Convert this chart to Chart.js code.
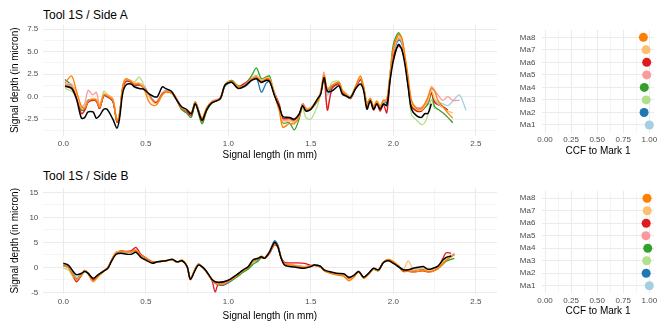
<!DOCTYPE html>
<html>
<head>
<meta charset="utf-8">
<script src="https://cdn.jsdelivr.net/npm/chart.js@4.4.1/dist/chart.umd.min.js"></script>
<style>
  body { margin: 0; width: 664px; height: 332px; position: relative; background: #fff; overflow: hidden; }
  canvas { position: absolute; }
  .title { position: absolute; font: 12px "Liberation Sans", Arial, sans-serif; line-height: 14px; color: #000; white-space: nowrap; }
</style>
</head>
<body>
<div class="title" style="left:43px; top:8px">Tool 1S / Side A</div>
<div class="title" style="left:43px; top:169px">Tool 1S / Side B</div>
<canvas id="profileA" width="500" height="166" style="left:0; top:0"></canvas>
<canvas id="ccfA" width="174" height="166" style="left:490px; top:0"></canvas>
<canvas id="profileB" width="500" height="166" style="left:0; top:166px"></canvas>
<canvas id="ccfB" width="174" height="166" style="left:490px; top:166px"></canvas>
<script>
// Marks and colours (ColorBrewer "Paired")
const markNames = ['Ma1', 'Ma2', 'Ma3', 'Ma4', 'Ma5', 'Ma6', 'Ma7', 'Ma8'];
const markColors = ['#A6CEE3', '#1F78B4', '#B2DF8A', '#33A02C', '#FB9A99', '#E31A1C', '#FDBF6F', '#FF7F00'];

// CCF to Mark 1
const ccfSideA = [1.0, 0.95, 0.97, 0.952, 0.975, 0.975, 0.968, 0.943];
const ccfSideB = [1.0, 0.97, 0.975, 0.985, 0.967, 0.97, 0.98, 0.978];

// Tick values
const lengthTicks = [0, 0.5, 1, 1.5, 2, 2.5];
const lengthMinor = [0.25, 0.75, 1.25, 1.75, 2.25];
const depthTicksA = [-2.5, 0, 2.5, 5, 7.5];
const depthMinorA = [-3.75, -1.25, 1.25, 3.75, 6.25];
const depthTicksB = [-5, 0, 5, 10, 15];
const depthMinorB = [-2.5, 2.5, 7.5, 12.5];
const ccfTicks = [0, 0.25, 0.5, 0.75, 1];
const ccfMinor = [0.125, 0.375, 0.625, 0.875];

// Side A: signal length (mm) and depth (micron)
const lengthA = [0.01, 0.05, 0.08, 0.11, 0.13, 0.15, 0.18, 0.20, 0.22, 0.245,
  0.265, 0.30, 0.325, 0.34, 0.36, 0.38, 0.41, 0.43, 0.46, 0.49,
  0.52, 0.55, 0.57, 0.60, 0.62, 0.655, 0.685, 0.715, 0.745, 0.775,
  0.80, 0.84, 0.87, 0.90, 0.95, 0.98, 1.02, 1.06, 1.10, 1.14,
  1.17, 1.20, 1.23, 1.25, 1.28, 1.31, 1.33, 1.37, 1.40, 1.43,
  1.45, 1.47, 1.50, 1.54, 1.56, 1.58, 1.60, 1.63, 1.67, 1.69,
  1.71, 1.74, 1.77, 1.80, 1.82, 1.84, 1.86, 1.88, 1.90, 1.92,
  1.94, 1.96, 1.98, 2.00, 2.03, 2.05, 2.07, 2.09, 2.11, 2.14,
  2.17, 2.19, 2.21, 2.23, 2.25, 2.27, 2.30, 2.33, 2.36, 2.40, 2.44];

const sideA_ref = [1.2, 0.9, -0.3, -2.4, -2.3, -1.7, -1.7, -2.4, -2.1, -1.4,
  -1.4, -2.5, -3.5, -2.5, 0.4, 1.3, 1.4, 1.1, 0.9, 0.8,
  0.3, 0.0, 0.0, 1.1, 0.9, 0.6, -0.3, -1.1, -1.4, -1.9,
  -0.8, -2.6, -1.4, -0.7, -0.25, 1.3, 1.6, 0.9, 1.2, 1.8,
  2.0, 1.6, 1.8, 1.7, 0.1, -1.2, -2.2, -2.3, -2.5, -1.9,
  -1.0, -1.6, -1.4, -0.25, 0.3, 2.1, 0.6, 0.65, 1.2, 0.3,
  0.1, -0.1, 0.85, 1.4, 0.65, -1.4, -0.45, -1.4, -0.8, -1.4,
  -0.8, -1.0, 1.8, 4.0, 5.8, 5.3, 3.6, 1.0, -1.4, -2.1,
  -2.3, -1.9, -1.85, -0.8, null, null, null, null, null, null, null];

const sideA_Ma1 = [1.2, 1.1, 0.3, -1.3, -1.2, -0.6, -0.4, -0.5, -1.1, 0.1,
  0.0, -0.5, -2.8, -2.0, 0.9, 1.7, 1.6, 1.3, 1.3, 1.0,
  0.2, -0.5, -0.5, 0.4, 0.7, 0.5, -0.2, -1.1, -1.5, -1.8,
  -0.6, -2.4, -1.2, -0.6, -0.2, 1.2, 1.6, 1.0, 1.2, 1.9,
  2.2, 1.5, 1.9, 1.8, 0.4, -1.2, -2.5, -2.5, -2.7, -2.0,
  -0.8, -1.3, -1.2, -0.3, 0.5, 2.3, 0.2, 1.0, 1.4, 0.6,
  0.3, -0.1, 0.9, 1.9, 0.9, -0.8, -0.3, -1.1, -0.5, -1.1,
  -0.4, -0.5, 2.1, 4.9, 6.3, 6.1, 4.2, 1.6, -1.2, -1.4,
  -1.4, -1.0, -0.5, 0.5, -0.3, -0.6, -0.8, -1.0, -0.5, 0.2, -1.5];

const sideA_Ma2 = [1.9, 1.3, 0.3, -1.3, -1.2, -0.4, -0.3, -0.5, -1.1, 0.1,
  0.0, -0.5, -2.8, -2.1, 0.9, 1.7, 1.7, 1.3, 1.3, 1.0,
  0.2, -0.5, -0.6, 0.3, 0.6, 0.4, -0.3, -1.3, -1.6, -1.9,
  -0.6, -2.5, -1.3, -0.6, -0.3, 1.2, 1.6, 1.0, 1.1, 1.8,
  2.1, 0.5, 1.5, 1.7, 0.2, -1.3, -2.6, -2.5, -2.7, -2.0,
  -0.8, -1.3, -1.3, -0.4, 0.4, 2.3, 0.6, 1.0, 1.4, 0.5,
  0.2, -0.2, 0.9, 1.9, 0.9, -0.9, -0.4, -1.2, -0.6, -1.2,
  -0.5, -0.7, 2.2, 4.8, 6.3, 6.0, 4.1, 1.4, -1.0, -1.5,
  -1.5, -1.2, -0.8, 0.4, -0.5, -0.8, -1.1, -1.5, null, null, null];

const sideA_Ma3 = [0.9, 0.6, 0.0, -1.5, -1.5, -0.6, -0.3, -0.4, -1.1, 0.6,
  0.3, -0.3, -2.7, -2.0, 1.0, 1.8, 1.8, 1.6, 2.2, 1.2,
  0.2, -0.5, -0.6, 0.3, 0.6, 0.6, -0.2, -1.3, -1.7, -2.1,
  -0.8, -2.7, -1.5, -0.7, -0.2, 1.4, 1.8, 1.2, 1.4, 2.1,
  2.4, 1.8, 2.1, 1.9, 0.3, -1.3, -2.6, -2.6, -2.9, -2.2,
  -1.3, -2.3, -2.5, -1.0, 0.3, 2.3, 0.7, 1.6, 1.7, 0.8,
  0.3, 0.0, 1.1, 2.0, 1.0, -0.8, -0.2, -1.1, -0.5, -1.1,
  -0.4, -0.5, 2.3, 5.0, 6.5, 6.2, 4.2, 1.2, -2.0, -2.6,
  -3.1, -2.9, -2.0, -0.3, -1.4, null, null, null, null, null, null];

const sideA_Ma4 = [1.4, 1.3, 0.1, -1.5, -1.4, -0.6, -0.3, -0.4, -1.3, 0.2,
  0.1, -0.4, -2.8, -2.1, 1.0, 1.9, 1.7, 1.4, 1.3, 1.1,
  0.1, -0.6, -0.5, 0.3, 0.6, 0.5, -0.3, -1.4, -1.8, -2.3,
  -0.8, -3.0, -1.5, -0.7, -0.2, 1.3, 1.8, 1.2, 1.4, 2.3,
  3.2, 2.0, 2.2, 2.3, 0.2, -1.5, -2.9, -2.9, -3.7, -2.4,
  -1.0, -1.5, -1.4, -0.5, 0.5, 2.3, 0.9, 1.2, 1.5, 0.6,
  0.4, 0.0, 1.1, 2.0, 1.0, -0.7, -0.2, -1.2, -0.6, -1.2,
  -0.5, -0.5, 2.6, 5.8, 7.1, 6.5, 4.3, 1.4, -0.9, -1.5,
  -1.6, -1.2, -0.8, 0.5, -1.1, -1.4, -1.8, -2.3, -2.9, null, null];

const sideA_Ma5 = [1.2, 1.2, 0.4, -1.1, -0.8, 0.7, 0.2, 0.5, -0.9, 0.2,
  0.2, -0.2, -2.6, -2.0, 1.0, 1.8, 1.7, 1.4, 1.5, 1.1,
  0.2, -0.5, -0.5, 0.4, 0.6, 0.5, -0.1, -1.1, -1.5, -1.9,
  -0.7, -2.4, -1.2, -0.5, -0.1, 1.3, 1.7, 1.1, 1.4, 2.0,
  2.3, 1.7, 2.0, 1.9, 0.4, -1.2, -2.6, -2.5, -2.7, -2.0,
  -0.8, -1.3, -1.2, -0.3, 0.6, 2.7, -1.2, 1.0, 1.4, 0.6,
  0.3, -0.1, 1.0, 2.0, 1.1, -0.8, -0.2, -1.1, -0.5, -1.1,
  -0.5, -0.5, 2.2, 4.9, 6.5, 6.2, 4.3, 1.6, -0.8, -1.2,
  -1.2, -0.8, -0.2, 1.1, 0.7, 0.2, -0.4, 0.0, -0.4, -0.4, null];

const sideA_Ma6 = [1.1, 1.0, 0.0, -1.9, -1.5, -0.6, -0.4, -0.5, -1.3, 0.1,
  0.0, -0.5, -2.8, -2.1, 0.9, 1.7, 1.6, 1.3, 1.3, 1.0,
  0.1, -0.6, -0.6, 0.3, 0.5, 0.4, -0.3, -1.3, -1.6, -2.1,
  -0.7, -2.7, -1.4, -0.6, -0.2, 1.3, 1.7, 1.1, 1.5, 2.0,
  2.2, 1.7, 1.9, 1.8, 0.4, -0.9, -2.4, -2.4, -2.6, -2.0,
  -0.9, -1.4, -1.3, -0.4, 0.4, 2.3, -1.5, 1.0, 1.4, 0.5,
  0.2, -0.2, 0.9, 1.9, 0.9, -1.2, -0.5, -1.5, -0.8, -1.6,
  -0.9, -1.8, 1.8, 4.5, 5.6, 5.3, 3.9, 1.2, -1.1, -1.6,
  -1.6, -1.2, -0.5, 0.4, -0.6, -0.9, -1.1, -1.5, null, null, null];

const sideA_Ma7 = [1.4, 1.4, 0.3, -1.3, -1.2, -0.5, -0.2, -0.3, -1.1, 0.3,
  0.2, -0.3, -2.6, -1.9, 1.1, 1.9, 1.8, 1.5, 1.5, 1.0,
  0.0, -0.7, -0.7, 0.2, 0.5, 0.5, -0.2, -1.2, -1.5, -1.9,
  -0.7, -2.5, -1.3, -0.6, -0.2, 1.3, 1.7, 1.1, 1.3, 2.0,
  2.3, 1.8, 2.1, 2.0, 0.4, -1.3, -2.8, -2.7, -2.8, -2.1,
  -0.9, -1.4, -1.2, -0.3, 0.6, 2.5, 0.9, 1.3, 1.6, 0.7,
  0.4, 0.0, 1.1, 2.1, 1.1, -0.8, -0.2, -1.1, -0.5, -1.1,
  -0.4, -0.3, 2.5, 5.2, 6.7, 6.4, 4.5, 1.7, -0.7, -1.4,
  -1.5, -1.1, -0.5, 0.7, -0.3, -0.8, -1.2, -1.6, -1.8, null, null];

const sideA_Ma8 = [1.5, 2.3, 0.6, -1.1, -1.3, -0.5, -0.3, -0.4, -1.2, 0.2,
  0.1, -0.4, -2.7, -2.0, 1.2, 2.0, 1.7, 1.4, 1.4, 0.8,
  -0.6, -1.0, -0.8, 0.2, 0.5, 0.4, -0.3, -1.2, -1.4, -1.8,
  -0.6, -2.4, -1.2, -0.6, -0.3, 1.3, 1.7, 1.1, 1.2, 1.9,
  2.2, 1.7, 2.0, 1.9, 0.2, -1.7, -3.4, -3.0, -3.0, -2.2,
  -0.9, -1.4, -1.3, -0.5, 0.4, 2.4, 0.8, 1.3, 1.6, 0.7,
  0.3, -0.2, 1.1, 2.3, 1.1, -0.8, -0.2, -1.1, -0.5, -1.1,
  -0.4, -0.4, 2.4, 5.3, 6.9, 6.6, 4.6, 2.2, -0.4, -1.3,
  -1.3, -0.8, 0.0, 0.9, 0.6, -0.4, -1.1, -1.8, -2.4, null, null];

// Side B: signal length (mm) and depth (micron)
const lengthB = [0.00, 0.03, 0.06, 0.08, 0.11, 0.13, 0.15, 0.18, 0.21, 0.24,
  0.27, 0.29, 0.32, 0.35, 0.38, 0.41, 0.44, 0.47, 0.50, 0.54,
  0.57, 0.62, 0.66, 0.69, 0.72, 0.75, 0.77, 0.80, 0.82, 0.86,
  0.90, 0.92, 0.94, 0.97, 1.01, 1.05, 1.09, 1.12, 1.15, 1.18,
  1.20, 1.22, 1.25, 1.28, 1.30, 1.32, 1.34, 1.37, 1.41, 1.46,
  1.50, 1.52, 1.555, 1.58, 1.61, 1.655, 1.70, 1.73, 1.76, 1.79,
  1.82, 1.85, 1.88, 1.91, 1.94, 1.97, 2.00, 2.03, 2.06, 2.09,
  2.12, 2.15, 2.18, 2.21, 2.24, 2.27, 2.30, 2.32, 2.35, 2.37];

const sideB_ref = [0.8, 0.45, -0.85, -1.5, -1.2, -0.85, -1.2, -2.2, -1.5, -0.85,
  -0.2, 1.1, 2.6, 2.8, 2.65, 2.6, 3.0, 2.0, 1.45, 0.8,
  1.1, 1.3, 1.6, 1.1, 1.3, 0.15, -2.4, -0.5, 0.45, -0.5,
  -2.4, -2.9, -3.0, -2.9, -2.4, -1.5, -0.5, 0.1, 1.5, 1.8,
  2.1, 1.8, 3.1, 5.0, 4.1, 1.8, 0.45, 0.15, 0.0, -0.2,
  0.15, 0.45, 0.25, -0.5, -0.85, -1.2, -1.3, -2.0, -1.6, -0.85,
  -2.0, -1.2, -0.2, -0.5, 0.95, 1.3, 0.8, 0.15, -0.5, -0.5,
  -0.2, 0.0, 0.15, -0.4, -0.2, 0.25, 1.45, 2.0, 2.25, null];

const sideB_Ma1 = [0.5, 0.2, -1.2, -2.0, -1.4, -0.7, -1.1, -2.4, -1.7, -0.9,
  -0.1, 1.2, 2.8, 3.1, 3.0, 3.0, 3.3, 2.3, 1.7, 1.0,
  1.1, 1.3, 1.6, 1.1, 1.4, 0.2, -2.3, -0.3, 0.6, -0.5,
  -2.4, -3.0, -3.3, -3.2, -2.6, -1.7, -0.7, -0.1, 1.1, 1.6,
  2.1, 1.9, 3.1, 5.0, 4.2, 1.8, 0.6, 0.4, 0.2, 0.0,
  0.3, 0.5, 0.3, -0.6, -1.0, -1.4, -1.5, -2.2, -1.7, -0.8,
  -2.0, -1.3, -0.3, -0.6, 1.0, 1.5, 1.0, 0.3, -0.5, -0.5,
  -0.5, -0.3, -0.2, -0.6, -0.4, 0.2, 1.0, 1.8, 2.4, 2.8];

const sideB_Ma2 = [0.4, 0.1, -1.4, -2.3, -1.4, -0.7, -1.2, -2.5, -1.8, -0.9,
  -0.1, 1.2, 2.9, 3.1, 3.0, 3.0, 3.3, 2.3, 1.7, 1.0,
  1.1, 1.3, 1.5, 1.0, 1.4, 0.2, -2.2, -0.3, 0.7, -0.5,
  -2.5, -3.2, -3.5, -3.6, -2.9, -1.9, -0.8, -0.2, 1.0, 1.5,
  2.1, 1.9, 3.2, 5.3, 4.5, 2.0, 0.7, 0.5, 0.2, 0.0,
  0.2, 0.4, 0.2, -0.6, -1.0, -1.4, -1.6, -2.3, -1.8, -0.8,
  -2.1, -1.3, -0.3, -0.6, 1.0, 1.5, 1.0, 0.2, -0.6, -0.6,
  -0.7, -0.4, -0.3, -0.7, -0.6, -0.1, 0.8, 1.5, 2.1, 2.5];

const sideB_Ma3 = [-0.2, -0.5, -2.0, -2.8, -1.7, -0.7, -1.3, -2.6, -1.8, -0.9,
  -0.1, 1.1, 2.8, 3.1, 3.0, 3.1, 3.3, 2.4, 1.8, 1.0,
  1.1, 1.4, 1.5, 1.0, 1.4, 0.2, -2.2, -0.2, 0.6, -0.6,
  -2.5, -3.0, -3.3, -3.2, -2.6, -1.8, -0.8, -0.3, 0.9, 1.6,
  2.2, 1.9, 3.0, 4.8, 4.1, 1.9, 0.7, 0.5, 0.3, 0.1,
  0.3, 0.4, 0.2, -0.5, -1.0, -1.4, -1.6, -2.3, -1.8, -0.8,
  -2.0, -1.3, -0.2, -0.5, 1.1, 1.6, 1.2, 0.4, -0.5, -0.5,
  -0.5, -0.2, -0.1, -0.5, -0.4, 0.1, 0.8, 1.4, 2.0, 2.5];

const sideB_Ma4 = [0.3, 0.0, -1.5, -2.4, -1.5, -0.6, -1.2, -2.5, -1.8, -0.9,
  -0.1, 1.2, 2.9, 3.2, 3.1, 3.1, 3.4, 2.4, 1.8, 1.0,
  1.1, 1.3, 1.5, 1.0, 1.4, 0.2, -2.2, -0.3, 0.6, -0.6,
  -2.5, -3.0, -3.2, -3.0, -2.7, -2.0, -1.0, -0.4, 0.6, 1.2,
  1.9, 1.8, 2.9, 4.8, 4.2, 1.9, 0.7, 0.5, 0.3, 0.1,
  0.3, 0.4, 0.2, -0.6, -1.0, -1.4, -1.6, -2.4, -1.8, -0.9,
  -2.1, -1.3, -0.4, -0.7, 0.9, 1.5, 1.0, 0.3, -0.6, -0.6,
  -0.6, -0.3, -0.3, -0.7, -0.6, -0.2, 0.6, 1.2, 1.6, 1.8];

const sideB_Ma5 = [0.3, 0.0, -1.5, -2.4, -1.5, -0.6, -1.2, -2.6, -1.8, -0.9,
  -0.1, 1.2, 2.9, 3.2, 3.1, 3.2, 3.5, 2.4, 1.8, 1.0,
  1.1, 1.3, 1.5, 1.0, 1.4, 0.2, -2.2, -0.3, 0.6, -0.6,
  -2.5, -3.1, -3.3, -3.2, -2.6, -1.7, -0.6, 0.0, 1.2, 1.7,
  2.2, 1.9, 3.0, 4.8, 4.2, 2.0, 0.8, 0.6, 0.4, 0.2,
  0.3, 0.4, 0.2, -0.6, -1.0, -1.4, -1.6, -2.4, -1.8, -0.8,
  -2.1, -1.3, -0.3, -0.6, 1.0, 1.6, 1.1, 0.3, -0.6, -0.6,
  -0.6, -0.3, -0.2, -0.6, -0.5, 0.0, 0.9, 1.6, 2.2, 2.6];

const sideB_Ma6 = [0.4, 0.0, -1.7, -2.9, -1.6, -0.6, -1.2, -2.5, -1.7, -0.8,
  0.0, 1.3, 3.0, 3.3, 3.2, 3.3, 4.0, 2.6, 1.9, 1.1,
  1.1, 1.3, 1.5, 1.0, 1.3, 0.0, -2.5, -0.3, 0.6, -0.6,
  -2.6, -4.9, -3.2, -3.1, -2.5, -1.6, -0.6, 0.0, 1.2, 1.7,
  2.2, 1.8, 2.8, 4.5, 4.0, 1.9, 1.0, 0.9, 0.9, 0.8,
  0.4, 0.4, 0.1, -0.6, -1.0, -1.4, -1.6, -2.4, -1.8, -0.8,
  -2.1, -1.3, -0.3, -0.6, 1.0, 1.5, 1.0, 0.2, -0.8, -0.8,
  -0.9, -0.8, -0.7, -0.9, -0.7, -0.2, 1.8, 2.9, 2.8, null];

const sideB_Ma7 = [0.3, 0.0, -1.6, -2.5, -1.5, -0.6, -1.3, -2.9, -1.9, -0.9,
  -0.1, 1.3, 3.0, 3.2, 3.1, 3.1, 3.4, 2.4, 1.8, 1.0,
  1.1, 1.3, 1.5, 1.0, 1.5, 0.2, -2.2, -0.3, 0.6, -0.6,
  -2.5, -3.1, -3.4, -3.3, -2.6, -1.7, -0.6, 0.1, 1.3, 1.8,
  2.3, 2.0, 3.0, 4.7, 4.1, 1.9, 0.7, 0.5, 0.3, 0.1,
  0.3, 0.4, 0.2, -0.6, -1.0, -1.4, -1.6, -2.5, -1.8, -0.8,
  -2.1, -1.3, -0.3, -0.6, 1.0, 1.6, 1.1, 0.3, -0.5, 1.3,
  -0.4, -0.3, -0.2, -0.6, -0.5, 0.0, 0.9, 1.6, 2.2, 2.6];

const sideB_Ma8 = [0.3, 0.0, -1.6, -2.5, -1.5, -0.6, -1.3, -2.8, -1.9, -0.9,
  -0.1, 1.2, 2.9, 3.2, 3.1, 3.1, 3.4, 2.4, 1.8, 1.0,
  1.1, 1.3, 1.5, 1.0, 1.4, 0.2, -2.2, -0.3, 0.6, -0.6,
  -2.5, -3.2, -3.4, -3.4, -2.7, -1.7, -0.6, 0.0, 1.2, 1.7,
  2.2, 1.9, 3.0, 4.7, 4.2, 1.9, 0.7, 0.5, 0.3, 0.0,
  0.3, 0.4, 0.2, -0.7, -1.1, -1.5, -1.8, -2.7, -2.0, -0.9,
  -2.2, -1.4, -0.3, -0.6, 1.0, 1.6, 1.1, 0.3, -0.7, -0.8,
  -0.9, -0.8, -0.6, -0.9, -0.8, -0.3, 0.7, 1.4, 2.1, 2.6];

const sideAProfiles = [sideA_Ma1, sideA_Ma2, sideA_Ma3, sideA_Ma4, sideA_Ma5, sideA_Ma6, sideA_Ma7, sideA_Ma8];
const sideBProfiles = [sideB_Ma1, sideB_Ma2, sideB_Ma3, sideB_Ma4, sideB_Ma5, sideB_Ma6, sideB_Ma7, sideB_Ma8];

const FONT = '"Liberation Sans", Arial, sans-serif';
const TICK_COLOR = '#4D4D4D';
const GRID_COLOR = '#EBEBEB';

Chart.defaults.font.family = FONT;
Chart.defaults.animation = false;

// ggplot-like axis: explicit major + minor ticks, minor ones unlabeled and thinner
function gridAxis(min, max, major, minor, fmt, opts) {
  return {
    type: 'linear',
    min: min,
    max: max,
    afterBuildTicks: (scale) => {
      scale.ticks = major.concat(minor).sort((a, b) => a - b).map((v) => ({ value: v }));
    },
    afterFit: opts.fit,
    border: { display: false },
    grid: {
      drawTicks: false,
      color: GRID_COLOR,
      lineWidth: (ctx) => (ctx.tick && major.includes(ctx.tick.value) ? 1 : 0.5),
    },
    ticks: {
      autoSkip: false,
      maxRotation: 0,
      padding: opts.padding,
      color: TICK_COLOR,
      font: { size: 8 },
      callback: (v) => (major.includes(v) ? fmt(v) : ''),
    },
    title: opts.title
      ? { display: true, text: opts.title, color: '#000', font: { size: 10 }, padding: opts.titlePadding }
      : { display: false },
  };
}

function profileChart(canvasId, lengths, reference, profiles, yCfg) {
  const datasets = [{
    label: 'Reference',
    data: lengths.map((x, i) => ({ x: x, y: reference[i] })),
    borderColor: '#000000',
    borderWidth: 1.5,
  }];
  // Ma8 drawn on top of Ma1
  for (let m = markNames.length - 1; m >= 0; m--) {
    datasets.push({
      label: markNames[m],
      data: lengths.map((x, i) => ({ x: x, y: profiles[m][i] })),
      borderColor: markColors[m],
      borderWidth: 1.3,
    });
  }
  datasets.forEach((d) => {
    d.pointRadius = 0;
    d.tension = 0.3;
    d.fill = false;
  });

  return new Chart(document.getElementById(canvasId), {
    type: 'line',
    data: { datasets: datasets },
    options: {
      responsive: false,
      devicePixelRatio: 1,
      layout: { padding: { left: 0, right: 3, top: yCfg.top, bottom: 0 } },
      plugins: { legend: { display: false }, tooltip: { enabled: false } },
      scales: {
        x: gridAxis(-0.125, 2.628, lengthTicks, lengthMinor, (v) => v.toFixed(1), {
          fit: (s) => { s.height = yCfg.xHeight; },
          padding: yCfg.xPad,
          title: 'Signal length (in mm)',
          titlePadding: { top: 0, bottom: yCfg.xTitlePad },
        }),
        y: gridAxis(yCfg.min, yCfg.max, yCfg.major, yCfg.minor, yCfg.fmt, {
          fit: (s) => { s.width = 42.7; },
          padding: 4.4,
          title: 'Signal depth (in micron)',
          titlePadding: { top: 9.3, bottom: 0 },
        }),
      },
    },
  });
}

function ccfChart(canvasId, ccf, cfg) {
  return new Chart(document.getElementById(canvasId), {
    type: 'scatter',
    data: {
      datasets: [{
        label: 'CCF',
        data: markNames.map((m, i) => ({ x: ccf[i], y: i + 1 })),
        pointRadius: 4.5,
        pointBackgroundColor: markColors,
        pointBorderWidth: 0,
      }],
    },
    options: {
      responsive: false,
      devicePixelRatio: 1,
      layout: { padding: { left: 0, right: 10, top: cfg.top, bottom: 0 } },
      plugins: { legend: { display: false }, tooltip: { enabled: false } },
      scales: {
        x: gridAxis(-0.03, 1.045, ccfTicks, ccfMinor, (v) => v.toFixed(2), {
          fit: (s) => { s.height = cfg.xHeight; },
          padding: cfg.xPad,
          title: 'CCF to Mark 1',
          titlePadding: { top: 0, bottom: cfg.xTitlePad },
        }),
        y: gridAxis(0.4, 8.6, [1, 2, 3, 4, 5, 6, 7, 8], [], (v) => markNames[v - 1], {
          fit: (s) => { s.width = 51.9; },
          padding: 6.5,
        }),
      },
    },
  });
}

profileChart('profileA', lengthA, sideA_ref, sideAProfiles, {
  min: -4.35, max: 8.0, major: depthTicksA, minor: depthMinorA,
  fmt: (v) => v.toFixed(1),
  top: 24.7, xHeight: 30.2, xPad: 3.4, xTitlePad: 4.3,
});

profileChart('profileB', lengthB, sideB_ref, sideBProfiles, {
  min: -5.25, max: 15.85, major: depthTicksB, minor: depthMinorB,
  fmt: (v) => String(v),
  top: 22.05, xHeight: 38.45, xPad: 3.35, xTitlePad: 9.3,
});

ccfChart('ccfA', ccfSideA, { top: 29.8, xHeight: 33.5, xPad: 2, xTitlePad: 8.3 });
ccfChart('ccfB', ccfSideB, { top: 24.8, xHeight: 38.8, xPad: 3, xTitlePad: 14.3 });
</script>
</body>
</html>
